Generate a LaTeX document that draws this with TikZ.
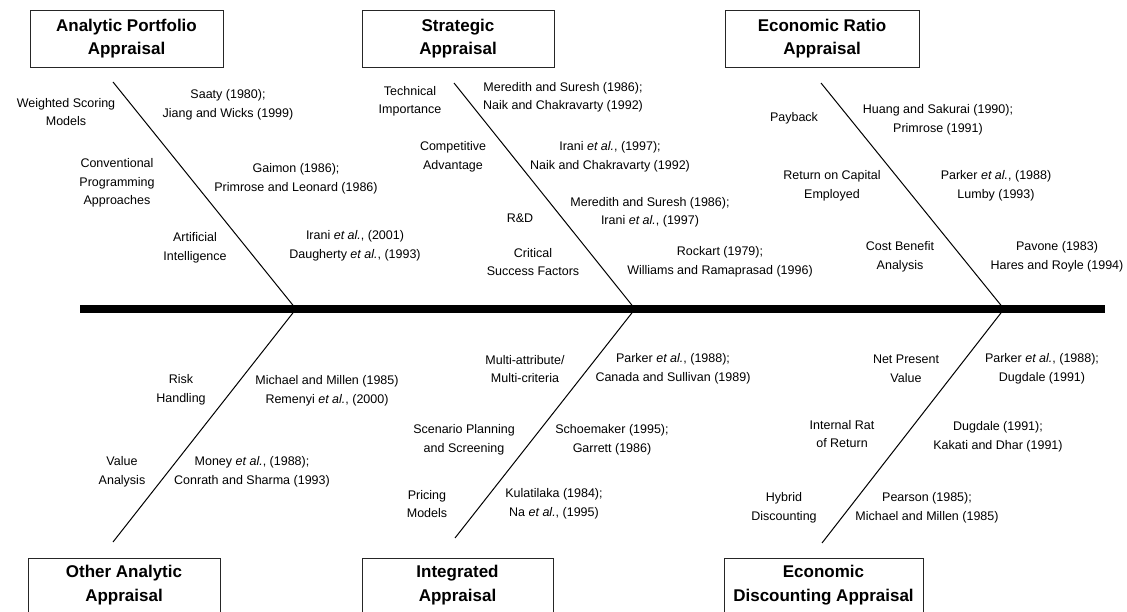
\documentclass[tikz,border=0pt]{standalone}
\usepackage{fontspec}
\setmainfont{Liberation Sans}
\begin{document}
\begin{tikzpicture}[x=1pt,y=-1pt,
  lbl/.style={align=center,inner sep=0pt,font=\fontsize{12.5}{18.5}\selectfont},
  ttl/.style={align=center,inner sep=0pt,font=\bfseries\fontsize{17}{23.5}\selectfont},
  box/.style={draw=black!85,line width=0.9pt,minimum height=57pt,inner sep=0pt},
  bone/.style={line width=1pt,black},
  spine/.style={line width=8pt,black}]
\useasboundingbox (0,0) rectangle (1127,612);
\fill[white] (0,0) rectangle (1127,612);
% boxes top
\node[box,minimum width=193pt] (A) at (126.5,38.5) {};
\node[ttl] (At) at (126.5,38.5) {Analytic Portfolio\\Appraisal};
\node[box,minimum width=192pt] (B) at (458,38.5) {};
\node[ttl] (Bt) at (458,38.5) {Strategic\\Appraisal};
\node[box,minimum width=194pt] (C) at (822,38.5) {};
\node[ttl] (Ct) at (822,38.5) {Economic Ratio\\Appraisal};
% boxes bottom
\node[box,minimum width=192pt,minimum height=70pt,anchor=north] (D) at (124,558) {};
\node[ttl] (Dt) at (124,585) {Other Analytic\\Appraisal};
\node[box,minimum width=191pt,minimum height=70pt,anchor=north] (E) at (457.5,558) {};
\node[ttl] (Et) at (457.5,585) {Integrated\\Appraisal};
\node[box,minimum width=199pt,minimum height=70pt,anchor=north] (F) at (823.5,558) {};
\node[ttl] (Ft) at (823.5,585) {Economic\\Discounting Appraisal};
% spine
\coordinate (spL) at (80,309);
\coordinate (spR) at (1105,309);
\draw[spine] (spL) -- (spR);
% bones
\coordinate (j1) at (296,309);
\coordinate (j2) at (635,309);
\coordinate (j3) at (1004,309);
\coordinate (t1) at (113,82);
\coordinate (t2) at (454,83);
\coordinate (t3) at (821,83);
\coordinate (b1) at (113,542);
\coordinate (b2) at (455,538);
\coordinate (b3) at (822,543);
\draw[bone] (t1) -- (j1) -- (b1);
\draw[bone] (t2) -- (j2) -- (b2);
\draw[bone] (t3) -- (j3) -- (b3);
% top left
\node[lbl] (n1) at (66,112) {Weighted Scoring\\Models};
\node[lbl] (r1) at (228,105) {Saaty (1980);\\Jiang and Wicks (1999)};
\node[lbl] (n2) at (117,183) {Conventional\\Programming\\Approaches};
\node[lbl] (r2) at (296,179) {Gaimon (1986);\\Primrose and Leonard (1986)};
\node[lbl] (n3) at (195,248) {Artificial\\Intelligence};
\node[lbl] (r3) at (355,246) {Irani \textit{et al.}, (2001)\\Daugherty \textit{et al.}, (1993)};
% top middle
\node[lbl] (n4) at (410,101.5) {Technical\\Importance};
\node[lbl] (r4) at (563,97.5) {Meredith and Suresh (1986);\\Naik and Chakravarty (1992)};
\node[lbl] (n5) at (453,157) {Competitive\\Advantage};
\node[lbl] (r5) at (610,157) {Irani \textit{et al.}, (1997);\\Naik and Chakravarty (1992)};
\node[lbl] (n6) at (520,218) {R\&D};
\node[lbl] (r6) at (650,212.5) {Meredith and Suresh (1986);\\Irani \textit{et al.}, (1997)};
\node[lbl] (n7) at (533,262) {Critical\\Success Factors};
\node[lbl] (r7) at (720,262) {Rockart (1979);\\Williams and Ramaprasad (1996)};
% top right
\node[lbl] (n8) at (794,118) {Payback};
\node[lbl] (r8) at (938,120) {Huang and Sakurai (1990);\\Primrose (1991)};
\node[lbl] (n9) at (832,186) {Return on Capital\\Employed};
\node[lbl] (r9) at (996,186) {Parker \textit{et al.}, (1988)\\Lumby (1993)};
\node[lbl] (n10) at (900,257) {Cost Benefit\\Analysis};
\node[lbl] (r10) at (1057,257) {Pavone (1983)\\Hares and Royle (1994)};
% bottom left
\node[lbl] (n11) at (181,390) {Risk\\Handling};
\node[lbl] (r11) at (327,391) {Michael and Millen (1985)\\Remenyi \textit{et al.}, (2000)};
\node[lbl] (n12) at (122,472) {Value\\Analysis};
\node[lbl] (r12) at (252,472) {Money \textit{et al.}, (1988);\\Conrath and Sharma (1993)};
% bottom middle
\node[lbl] (n13) at (525,369) {Multi-attribute/\\Multi-criteria};
\node[lbl] (r13) at (673,369) {Parker \textit{et al.}, (1988);\\Canada and Sullivan (1989)};
\node[lbl] (n14) at (464,440) {Scenario Planning\\and Screening};
\node[lbl] (r14) at (612,440) {Schoemaker (1995);\\Garrett (1986)};
\node[lbl] (n15) at (427,504) {Pricing\\Models};
\node[lbl] (r15) at (554,504) {Kulatilaka (1984);\\Na \textit{et al.}, (1995)};
% bottom right
\node[lbl] (n16) at (906,369) {Net Present\\Value};
\node[lbl] (r16) at (1042,369) {Parker \textit{et al.}, (1988);\\Dugdale (1991)};
\node[lbl] (n17) at (842,434) {Internal Rat\\of Return};
\node[lbl] (r17) at (998,437) {Dugdale (1991);\\Kakati and Dhar (1991)};
\node[lbl] (n18) at (784,508) {Hybrid\\Discounting};
\node[lbl] (r18) at (927,508) {Pearson (1985);\\Michael and Millen (1985)};
\end{tikzpicture}
\end{document}
